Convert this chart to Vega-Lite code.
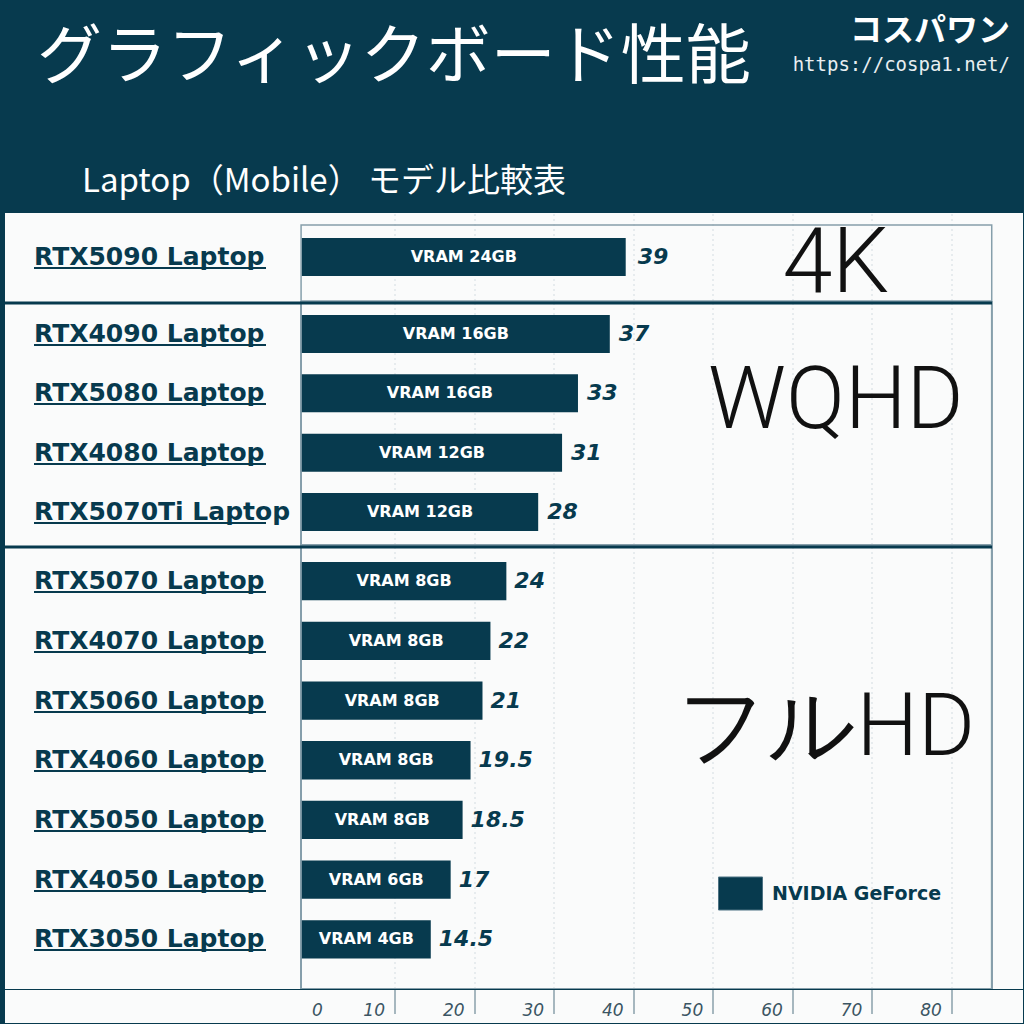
{
  "$schema": "https://vega.github.io/schema/vega-lite/v6.json",
  "background": "#073a4e",
  "padding": {"left": 3, "right": 3, "top": 15, "bottom": 3},
  "spacing": 0,
  "config": {"view": {"stroke": null}, "concat": {"spacing": 0}, "font": "DejaVu Sans", "axis": {"translate": 0}},
  "datasets": {
    "gpus": [
      {"gpu": "RTX5090 Laptop", "score": 39, "vram": "VRAM 24GB", "tier": "4K", "brand": "NVIDIA GeForce"},
      {"gpu": "RTX4090 Laptop", "score": 37, "vram": "VRAM 16GB", "tier": "WQHD", "brand": "NVIDIA GeForce"},
      {"gpu": "RTX5080 Laptop", "score": 33, "vram": "VRAM 16GB", "tier": "WQHD", "brand": "NVIDIA GeForce"},
      {"gpu": "RTX4080 Laptop", "score": 31, "vram": "VRAM 12GB", "tier": "WQHD", "brand": "NVIDIA GeForce"},
      {"gpu": "RTX5070Ti Laptop", "score": 28, "vram": "VRAM 12GB", "tier": "WQHD", "brand": "NVIDIA GeForce"},
      {"gpu": "RTX5070 Laptop", "score": 24, "vram": "VRAM 8GB", "tier": "フルHD", "brand": "NVIDIA GeForce"},
      {"gpu": "RTX4070 Laptop", "score": 22, "vram": "VRAM 8GB", "tier": "フルHD", "brand": "NVIDIA GeForce"},
      {"gpu": "RTX5060 Laptop", "score": 21, "vram": "VRAM 8GB", "tier": "フルHD", "brand": "NVIDIA GeForce"},
      {"gpu": "RTX4060 Laptop", "score": 19.5, "vram": "VRAM 8GB", "tier": "フルHD", "brand": "NVIDIA GeForce"},
      {"gpu": "RTX5050 Laptop", "score": 18.5, "vram": "VRAM 8GB", "tier": "フルHD", "brand": "NVIDIA GeForce"},
      {"gpu": "RTX4050 Laptop", "score": 17, "vram": "VRAM 6GB", "tier": "フルHD", "brand": "NVIDIA GeForce"},
      {"gpu": "RTX3050 Laptop", "score": 14.5, "vram": "VRAM 4GB", "tier": "フルHD", "brand": "NVIDIA GeForce"}
    ]
  },
  "resolve": {"scale": {"x": "independent", "y": "independent", "color": "independent"}, "legend": {"color": "independent"}},
  "vconcat": [
    {
      "hconcat": [
        {
          "width": 752, "height": 64,
          "title": {"text": "グラフィックボード性能", "anchor": "start", "dx": 32, "font": "Noto Sans CJK JP", "fontSize": 65, "fontWeight": "normal", "color": "#ffffff", "offset": 10},
          "data": {"values": []},
          "mark": "point"
        },
        {
          "width": 266, "height": 64,
          "title": {"text": "コスパワン", "subtitle": "https://cospa1.net/", "anchor": "end", "dx": -13, "dy": -22, "font": "Noto Sans CJK JP", "fontSize": 32, "fontWeight": "bold", "color": "#ffffff", "subtitleColor": "#e8eef1", "subtitleFont": "DejaVu Sans Mono", "subtitleFontSize": 19, "subtitlePadding": 8},
          "data": {"values": []},
          "mark": "point"
        }
      ]
    },
    {
      "width": 1018, "height": 88,
      "title": {"text": "Laptop（Mobile） モデル比較表", "anchor": "start", "dx": 77, "font": "Noto Sans CJK JP", "fontSize": 33, "fontWeight": "normal", "color": "#ffffff", "offset": 14},
      "view": {"fill": "#fafbfb", "stroke": null},
      "data": {"name": "gpus"},
      "transform": [{"filter": "datum.tier === '4K'"}],
      "resolve": {"axis": {"y": "independent"}},
      "layer": [
        {
          "mark": {"type": "rect", "fillOpacity": 0, "stroke": "#869fab", "strokeWidth": 1.5, "yOffset": 12, "clip": true},
          "encoding": {
            "x": {"datum": -1.8, "type": "quantitative", "scale": {"domain": [-39.01, 88.93], "nice": false, "zero": false}, "axis": {"orient": "bottom", "translate": 0, "values": [10, 20, 30, 40, 50, 60, 70, 80], "domain": false, "ticks": false, "labels": false, "grid": true, "gridColor": "#d3dce1", "gridDash": [2, 3], "title": null}},
            "x2": {"datum": 85}
          }
        },
        {
          "mark": {"type": "bar", "color": "#073a4e"},
          "encoding": {
            "y": {"field": "gpu", "type": "nominal", "sort": null, "scale": {"paddingInner": 0.359, "paddingOuter": 0.4215, "align": 0.5},
              "axis": {"orient": "left", "offset": -29, "title": null, "domain": false, "grid": false, "ticks": true, "tickSize": -232, "tickColor": "#073a4e", "tickWidth": 2, "tickOffset": 11, "labelOffset": -11, "bandPosition": 0.5, "labelAlign": "left", "labelPadding": 232, "labelBaseline": "middle", "labelFont": "DejaVu Sans", "labelFontWeight": "bold", "labelFontSize": 25, "labelColor": "#073a4e", "labelLimit": 400, "zindex": 1}},
            "x": {"field": "score", "type": "quantitative", "title": null},
            "x2": {"datum": -1.7}
          }
        },
        {
          "transform": [{"calculate": "(datum.score - 1.7) / 2", "as": "mid"}],
          "mark": {"type": "text", "color": "#ffffff", "font": "DejaVu Sans", "fontWeight": "bold", "fontSize": 16, "align": "center", "baseline": "middle"},
          "encoding": {
            "y": {"field": "gpu", "type": "nominal", "sort": null, "axis": null},
            "x": {"field": "mid", "type": "quantitative", "title": null},
            "text": {"field": "vram"}
          }
        },
        {
          "mark": {"type": "text", "color": "#073a4e", "font": "DejaVu Sans", "fontWeight": "bold", "fontStyle": "italic", "fontSize": 22, "align": "left", "baseline": "middle", "dx": 12},
          "encoding": {
            "y": {"field": "gpu", "type": "nominal", "sort": null, "axis": null},
            "x": {"field": "score", "type": "quantitative", "title": null},
            "text": {"field": "score", "type": "nominal"}
          }
        },
        {
          "transform": [{"aggregate": [{"op": "count", "as": "n"}], "groupby": ["tier"]}],
          "mark": {"type": "text", "color": "#111111", "font": "Roboto", "fontWeight": 300, "fontSize": 90, "align": "center", "baseline": "middle", "dy": 8, "clip": true},
          "encoding": {
            "x": {"datum": 65.4, "type": "quantitative"},
            "text": {"field": "tier"}
          }
        }
      ]
    },
    {
      "width": 1018, "height": 244,
      "view": {"fill": "#fafbfb", "stroke": null},
      "data": {"name": "gpus"},
      "transform": [{"filter": "datum.tier === 'WQHD'"}],
      "resolve": {"axis": {"y": "independent"}},
      "layer": [
        {
          "mark": {"type": "rect", "fillOpacity": 0, "stroke": "#869fab", "strokeWidth": 1.5, "clip": true},
          "encoding": {
            "x": {"datum": -1.8, "type": "quantitative", "scale": {"domain": [-39.01, 88.93], "nice": false, "zero": false}, "axis": {"orient": "bottom", "translate": 0, "values": [10, 20, 30, 40, 50, 60, 70, 80], "domain": false, "ticks": false, "labels": false, "grid": true, "gridColor": "#d3dce1", "gridDash": [2, 3], "title": null}},
            "x2": {"datum": 85}
          }
        },
        {
          "mark": {"type": "bar", "color": "#073a4e"},
          "encoding": {
            "y": {"field": "gpu", "type": "nominal", "sort": null, "scale": {"paddingInner": 0.359, "paddingOuter": 0.237, "align": 0.5},
              "axis": {"orient": "left", "offset": -29, "title": null, "domain": false, "grid": false, "ticks": true, "tickSize": -232, "tickColor": "#073a4e", "tickWidth": 2, "tickOffset": 11, "labelOffset": -11, "bandPosition": 0.5, "labelAlign": "left", "labelPadding": 232, "labelBaseline": "middle", "labelFont": "DejaVu Sans", "labelFontWeight": "bold", "labelFontSize": 25, "labelColor": "#073a4e", "labelLimit": 400, "zindex": 1}},
            "x": {"field": "score", "type": "quantitative", "title": null},
            "x2": {"datum": -1.7}
          }
        },
        {
          "transform": [{"calculate": "(datum.score - 1.7) / 2", "as": "mid"}],
          "mark": {"type": "text", "color": "#ffffff", "font": "DejaVu Sans", "fontWeight": "bold", "fontSize": 16, "align": "center", "baseline": "middle"},
          "encoding": {
            "y": {"field": "gpu", "type": "nominal", "sort": null,
              "axis": {"orient": "left", "offset": -987, "values": ["RTX4090 Laptop"], "labels": false, "domain": false, "grid": false, "ticks": true, "tickSize": 987, "tickWidth": 3, "tickColor": "#073a4e", "tickOffset": -31.5, "bandPosition": 0.5, "title": null, "zindex": 2}},
            "x": {"field": "mid", "type": "quantitative", "title": null},
            "text": {"field": "vram"}
          }
        },
        {
          "mark": {"type": "text", "color": "#073a4e", "font": "DejaVu Sans", "fontWeight": "bold", "fontStyle": "italic", "fontSize": 22, "align": "left", "baseline": "middle", "dx": 9},
          "encoding": {
            "y": {"field": "gpu", "type": "nominal", "sort": null, "axis": null},
            "x": {"field": "score", "type": "quantitative", "title": null},
            "text": {"field": "score", "type": "nominal"}
          }
        },
        {
          "transform": [{"aggregate": [{"op": "count", "as": "n"}], "groupby": ["tier"]}],
          "mark": {"type": "text", "color": "#111111", "font": "Roboto", "fontWeight": 300, "fontSize": 87, "align": "center", "baseline": "middle", "dy": -21, "clip": true},
          "encoding": {
            "x": {"datum": 65.4, "type": "quantitative"},
            "text": {"field": "tier"}
          }
        }
      ]
    },
    {
      "width": 1018, "height": 444,
      "view": {"fill": "#fafbfb", "stroke": null},
      "data": {"name": "gpus"},
      "transform": [{"filter": "datum.tier === 'フルHD'"}],
      "resolve": {"axis": {"y": "independent"}},
      "layer": [
        {
          "mark": {"type": "rect", "fillOpacity": 0, "stroke": "#869fab", "strokeWidth": 1.5, "clip": true},
          "encoding": {
            "x": {"datum": -1.8, "type": "quantitative", "scale": {"domain": [-39.01, 88.93], "nice": false, "zero": false}, "axis": {"orient": "bottom", "translate": 0, "values": [10, 20, 30, 40, 50, 60, 70, 80], "domain": false, "ticks": false, "labels": false, "grid": true, "gridColor": "#d3dce1", "gridDash": [2, 3], "title": null}},
            "x2": {"datum": 85}
          }
        },
        {
          "mark": {"type": "bar"},
          "encoding": {
            "y": {"field": "gpu", "type": "nominal", "sort": null, "scale": {"paddingInner": 0.359, "paddingOuter": 0.398, "align": 0.358},
              "axis": {"orient": "left", "offset": -29, "title": null, "domain": false, "grid": false, "ticks": true, "tickSize": -232, "tickColor": "#073a4e", "tickWidth": 2, "tickOffset": 11, "labelOffset": -11, "bandPosition": 0.5, "labelAlign": "left", "labelPadding": 232, "labelBaseline": "middle", "labelFont": "DejaVu Sans", "labelFontWeight": "bold", "labelFontSize": 25, "labelColor": "#073a4e", "labelLimit": 400, "zindex": 1}},
            "x": {"field": "score", "type": "quantitative", "title": null},
            "x2": {"datum": -1.7},
            "color": {"field": "brand", "type": "nominal", "scale": {"range": ["#073a4e"]},
              "legend": {"orient": "none", "legendX": 713, "legendY": 326, "title": null, "symbolType": "M-1,-0.75H1V0.75H-1Z", "symbolSize": 1936, "symbolFillColor": "#073a4e", "symbolStrokeColor": "#4d7283", "symbolStrokeWidth": 1, "symbolOpacity": 1, "labelFont": "DejaVu Sans", "labelFontWeight": "bold", "labelFontSize": 19, "labelColor": "#073a4e", "labelOffset": 9, "labelLimit": 300, "padding": 0}}
          }
        },
        {
          "transform": [{"calculate": "(datum.score - 1.7) / 2", "as": "mid"}],
          "mark": {"type": "text", "color": "#ffffff", "font": "DejaVu Sans", "fontWeight": "bold", "fontSize": 16, "align": "center", "baseline": "middle"},
          "encoding": {
            "y": {"field": "gpu", "type": "nominal", "sort": null,
              "axis": {"orient": "left", "offset": -987, "values": ["RTX5070 Laptop"], "labels": false, "domain": false, "grid": false, "ticks": true, "tickSize": 987, "tickWidth": 3, "tickColor": "#073a4e", "tickOffset": -34.5, "bandPosition": 0.5, "title": null, "zindex": 2}},
            "x": {"field": "mid", "type": "quantitative", "title": null},
            "text": {"field": "vram"}
          }
        },
        {
          "mark": {"type": "text", "color": "#073a4e", "font": "DejaVu Sans", "fontWeight": "bold", "fontStyle": "italic", "fontSize": 22, "align": "left", "baseline": "middle", "dx": 8},
          "encoding": {
            "y": {"field": "gpu", "type": "nominal", "sort": null, "axis": null},
            "x": {"field": "score", "type": "quantitative", "title": null},
            "text": {"field": "score", "type": "nominal"}
          }
        },
        {
          "transform": [{"aggregate": [{"op": "count", "as": "n"}], "groupby": ["tier"]}],
          "mark": {"type": "text", "color": "#111111", "font": "Roboto", "fontWeight": 300, "fontSize": 87, "align": "center", "baseline": "middle", "dy": -38, "dx": -9, "clip": true},
          "encoding": {
            "x": {"datum": 65.4, "type": "quantitative"},
            "text": {"field": "tier"}
          }
        }
      ]
    },
    {
      "width": 1018, "height": 33,
      "view": {"fill": "#fafbfb", "stroke": null},
      "data": {"values": [{}]},
      "mark": {"type": "point", "opacity": 0},
      "encoding": {
        "x": {"datum": 0, "type": "quantitative", "scale": {"domain": [-39.01, 88.93], "nice": false, "zero": false},
          "axis": {"orient": "bottom", "offset": -33, "translate": 0, "values": [0, 10, 20, 30, 40, 50, 60, 70, 80], "domain": false, "grid": false,
            "ticks": true, "tickSize": 24, "tickColor": "#8aa0ab", "tickWidth": 1.5,
            "tickOpacity": {"condition": {"test": "datum.value === 0", "value": 0}, "value": 1},
            "labelAlign": {"condition": {"test": "datum.value === 0", "value": "center"}, "value": "right"},
            "labelOffset": {"condition": {"test": "datum.value === 0", "value": 2}, "value": -10},
            "labelPadding": -11, "labelFont": "DejaVu Sans", "labelFontStyle": "italic", "labelFontSize": 17, "labelColor": "#3b5563", "labelFlush": false, "title": null}}
      }
    }
  ]
}
